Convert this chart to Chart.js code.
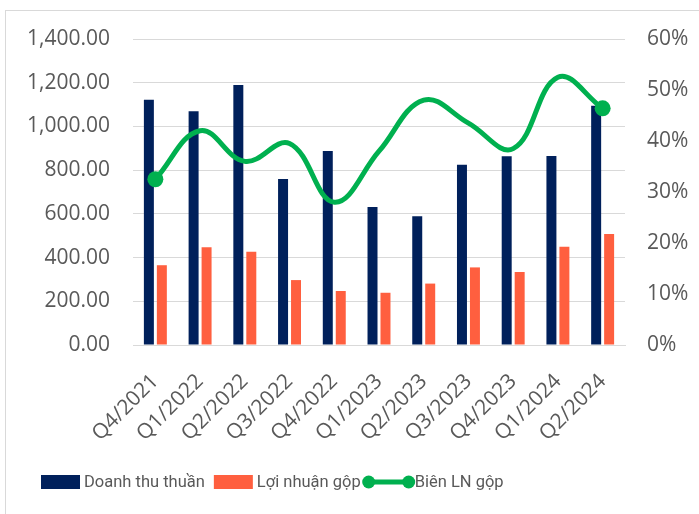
<!DOCTYPE html>
<html lang="vi">
<head>
    <meta charset="UTF-8">
    <title>Doanh thu và lợi nhuận gộp</title>
    <style>
        html, body { margin: 0; padding: 0; background: #fff; overflow: hidden; }
        .frame {
            position: absolute; left: 5px; top: 10px;
            width: 720px; height: 530px;
            border: 1px solid #d9d9d9;
        }
        #chart { position: absolute; left: 0; top: 0; }
    </style>
</head>
<body>
    <div class="frame"></div>
    <canvas id="chart" width="699" height="514"></canvas>

    <script src="https://cdn.jsdelivr.net/npm/chart.js"></script>
    <script>
        // Data
        const quarters = ["Q4/2021", "Q1/2022", "Q2/2022", "Q3/2022", "Q4/2022", "Q1/2023",
                          "Q2/2023", "Q3/2023", "Q4/2023", "Q1/2024", "Q2/2024"];
        const doanhThu = [1122, 1069, 1190, 759, 888, 631, 589, 825, 863, 865, 1095];
        const loiNhuan = [365, 447, 427, 297, 247, 239, 281, 355, 334, 450, 508];
        const bienLN = [0.325, 0.42, 0.36, 0.395, 0.28, 0.38, 0.48, 0.435, 0.385, 0.525, 0.464];

        const NAVY = '#00205b';
        const ORANGE = '#ff5f3f';
        const GREEN = '#00b04f';
        const TEXT = '#595959';
        const GRID = '#d9d9d9';

        // markers only on first and last point (as in the original)
        const markerRadius = bienLN.map((v, i) => (i === 0 || i === bienLN.length - 1) ? 8 : 0);

        // pick a narrow font for the legend if one is installed
        function legendFont(ctx) {
            ctx.font = '20px monospace';
            const base = ctx.measureText('Doanh thu thuần').width;
            ctx.font = '20px "Liberation Sans Narrow", monospace';
            const narrow = ctx.measureText('Doanh thu thuần').width;
            return narrow !== base ? '19.5px "Liberation Sans Narrow"' : '16.5px Roboto';
        }

        // Custom legend drawn under the axis labels
        const bottomLegend = {
            id: 'bottomLegend',
            afterDraw(chart) {
                const ctx = chart.ctx;
                const y = 482;
                ctx.save();
                ctx.font = legendFont(ctx);
                ctx.textBaseline = 'middle';
                let x = 41;
                const items = [
                    { text: 'Doanh thu thuần', color: NAVY, kind: 'box', gap: 0 },
                    { text: 'Lợi nhuận gộp', color: ORANGE, kind: 'box', gap: 9 },
                    { text: 'Biên LN gộp', color: GREEN, kind: 'line', gap: 2 }
                ];
                items.forEach(item => {
                    x += item.gap;
                    if (item.kind === 'box') {
                        ctx.fillStyle = item.color;
                        ctx.fillRect(x, y - 7, 39, 14);
                        x += 43;
                    } else {
                        ctx.strokeStyle = item.color;
                        ctx.lineWidth = 5;
                        ctx.beginPath();
                        ctx.moveTo(x + 6, y);
                        ctx.lineTo(x + 46, y);
                        ctx.stroke();
                        ctx.fillStyle = item.color;
                        [x + 6, x + 46].forEach(cx => {
                            ctx.beginPath();
                            ctx.arc(cx, y, 6.5, 0, Math.PI * 2);
                            ctx.fill();
                        });
                        x += 52;
                    }
                    ctx.fillStyle = TEXT;
                    ctx.fillText(item.text, x, y + 1);
                    x += ctx.measureText(item.text).width;
                });
                ctx.restore();
            }
        };

        new Chart(document.getElementById('chart').getContext('2d'), {
            type: 'bar',
            data: {
                labels: quarters,
                datasets: [
                    {
                        type: 'line',
                        label: 'Biên LN gộp',
                        data: bienLN,
                        yAxisID: 'y1',
                        borderColor: GREEN,
                        backgroundColor: GREEN,
                        borderWidth: 5,
                        tension: 0.4,
                        pointRadius: markerRadius,
                        pointBorderWidth: 0,
                        pointBackgroundColor: GREEN,
                        order: 0
                    },
                    {
                        label: 'Doanh thu thuần',
                        data: doanhThu,
                        backgroundColor: NAVY,
                        categoryPercentage: 0.58,
                        barPercentage: 0.77,
                        order: 1
                    },
                    {
                        label: 'Lợi nhuận gộp',
                        data: loiNhuan,
                        backgroundColor: ORANGE,
                        categoryPercentage: 0.58,
                        barPercentage: 0.77,
                        order: 2
                    }
                ]
            },
            options: {
                responsive: false,
                animation: false,
                devicePixelRatio: 1,
                layout: { padding: { top: 39, left: 0, right: 0, bottom: 0 } },
                plugins: {
                    legend: { display: false },
                    tooltip: { enabled: false }
                },
                scales: {
                    x: {
                        grid: { display: false },
                        border: { display: true, color: GRID, width: 1 },
                        ticks: {
                            color: TEXT,
                            font: { family: 'Open Sans', size: 21 },
                            maxRotation: 45,
                            minRotation: 45,
                            padding: 16
                        },
                        afterFit(scale) { scale.height = 514 - 345; }
                    },
                    y: {
                        position: 'left',
                        min: 0,
                        max: 1400,
                        grid: { color: GRID, lineWidth: 1, drawTicks: false },
                        border: { display: false },
                        ticks: {
                            stepSize: 200,
                            color: TEXT,
                            font: { family: 'Open Sans', size: 21 },
                            padding: 23,
                            callback: v => v.toLocaleString('en-US', { minimumFractionDigits: 2, maximumFractionDigits: 2 })
                        },
                        afterFit(scale) { scale.width = 133; }
                    },
                    y1: {
                        position: 'right',
                        min: 0,
                        max: 0.6,
                        grid: { display: false, drawTicks: false },
                        border: { display: false },
                        ticks: {
                            stepSize: 0.1,
                            color: TEXT,
                            font: { family: 'Open Sans', size: 21 },
                            padding: 22,
                            callback: v => Math.round(v * 100) + '%'
                        },
                        afterFit(scale) { scale.width = 699 - 625; }
                    }
                }
            },
            plugins: [bottomLegend]
        });
    </script>
</body>
</html>
